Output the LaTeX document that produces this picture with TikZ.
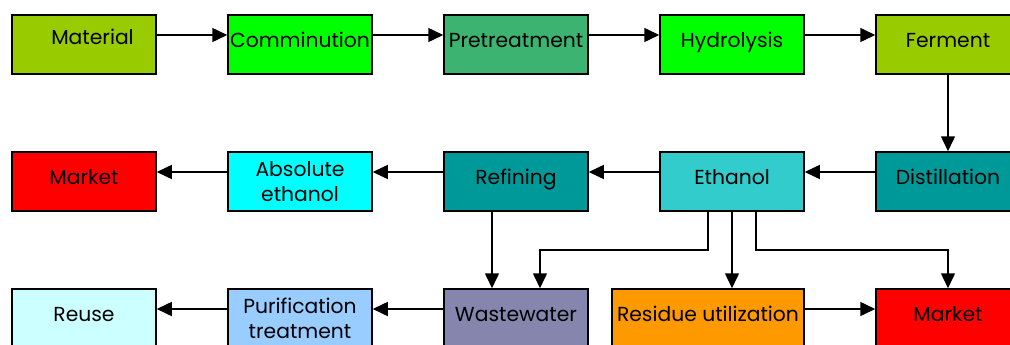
\documentclass[tikz,border=0pt]{standalone}
\usepackage{fontspec}
\setmainfont{Poppins}
\usetikzlibrary{arrows.meta}

\definecolor{olivegreen}{HTML}{99CC00}
\definecolor{brightgreen}{HTML}{00FF00}
\definecolor{seagreen}{HTML}{3CB371}
\definecolor{tealdark}{HTML}{009999}
\definecolor{tealmid}{HTML}{33CCCC}
\definecolor{aquabright}{HTML}{00FFFF}
\definecolor{paleaqua}{HTML}{CCFFFF}
\definecolor{skyblue}{HTML}{99CCFF}
\definecolor{slateviolet}{HTML}{8585AD}
\definecolor{orangefill}{HTML}{FF9900}
\definecolor{redfill}{HTML}{FF0000}

\tikzset{
  stage/.style={draw=black, line width=1.5pt, minimum width=144pt, minimum height=59pt,
    inner sep=0pt, font=\fontsize{20.3}{24}\selectfont, text height=14pt, text depth=8pt},
  twoline/.style={stage, align=center, text height=, text depth=,
    font=\fontsize{20.3}{25}\selectfont},
  flow/.style={line width=1.5pt, -{Triangle[length=15pt,width=14pt]}},
}

\begin{document}
\begin{tikzpicture}[x=1pt,y=-1pt]
\clip (0,0) rectangle (1010,345);

% first row: feedstock conversion
\node[stage, fill=olivegreen, text depth=13pt] (material) at (84,44.5) {\hspace*{17pt}Material};
\node[stage, fill=brightgreen] (comminution) at (300,44.5) {Comminution};
\node[stage, fill=seagreen] (pretreatment) at (516,44.5) {Pretreatment};
\node[stage, fill=brightgreen] (hydrolysis) at (732,44.5) {Hydrolysis};
\node[stage, fill=olivegreen] (ferment) at (948,44.5) {Ferment};

% second row: product recovery
\node[stage, fill=redfill] (market1) at (84,181.5) {Market};
\node[twoline, fill=aquabright] (absolute) at (300,181.5) {Absolute\\ethanol};
\node[stage, fill=tealdark] (refining) at (516,181.5) {Refining};
\node[stage, fill=tealmid] (ethanol) at (732,181.5) {Ethanol};
\node[stage, fill=tealdark] (distillation) at (948,181.5) {Distillation};

% third row: by-products
\node[stage, fill=paleaqua] (reuse) at (84,318.5) {Reuse};
\node[twoline, fill=skyblue] (purification) at (300,318.5) {Purification\\treatment};
\node[stage, fill=slateviolet] (wastewater) at (516,318.5) {Wastewater};
\node[stage, fill=orangefill, minimum width=192pt] (residue) at (708,318.5) {Residue utilization};
\node[stage, fill=redfill] (market2) at (948,318.5) {Market};

% horizontal flows, drawn slightly above the box centres
\draw[flow] ([yshift=9.5pt]material.east) -- ([yshift=9.5pt]comminution.west);
\draw[flow] ([yshift=9.5pt]comminution.east) -- ([yshift=9.5pt]pretreatment.west);
\draw[flow] ([yshift=9.5pt]pretreatment.east) -- ([yshift=9.5pt]hydrolysis.west);
\draw[flow] ([yshift=9.5pt]hydrolysis.east) -- ([yshift=9.5pt]ferment.west);
\draw[flow] (ferment.south) -- (distillation.north);
\draw[flow] ([yshift=9.5pt]distillation.west) -- ([yshift=9.5pt]ethanol.east);
\draw[flow] ([yshift=9.5pt]ethanol.west) -- ([yshift=9.5pt]refining.east);
\draw[flow] ([yshift=9.5pt]refining.west) -- ([yshift=9.5pt]absolute.east);
\draw[flow] ([yshift=9.5pt]absolute.west) -- ([yshift=9.5pt]market1.east);
\draw[flow] ([yshift=9.5pt]wastewater.west) -- ([yshift=9.5pt]purification.east);
\draw[flow] ([yshift=9.5pt]purification.west) -- ([yshift=9.5pt]reuse.east);
\draw[flow] ([yshift=9.5pt]residue.east) -- ([yshift=9.5pt]market2.west);

% branches leaving the ethanol and refining stages
\draw[flow] ([xshift=-24pt]refining.south) -- ([xshift=-24pt]wastewater.north);
\draw[flow] ([xshift=-24pt]ethanol.south) |- (540,250) -- ([xshift=24pt]wastewater.north);
\draw[flow] (ethanol.south) -- (ethanol.south |- residue.north);
\draw[flow] ([xshift=24pt]ethanol.south) |- (948,250) -- (market2.north);
\end{tikzpicture}
\end{document}
